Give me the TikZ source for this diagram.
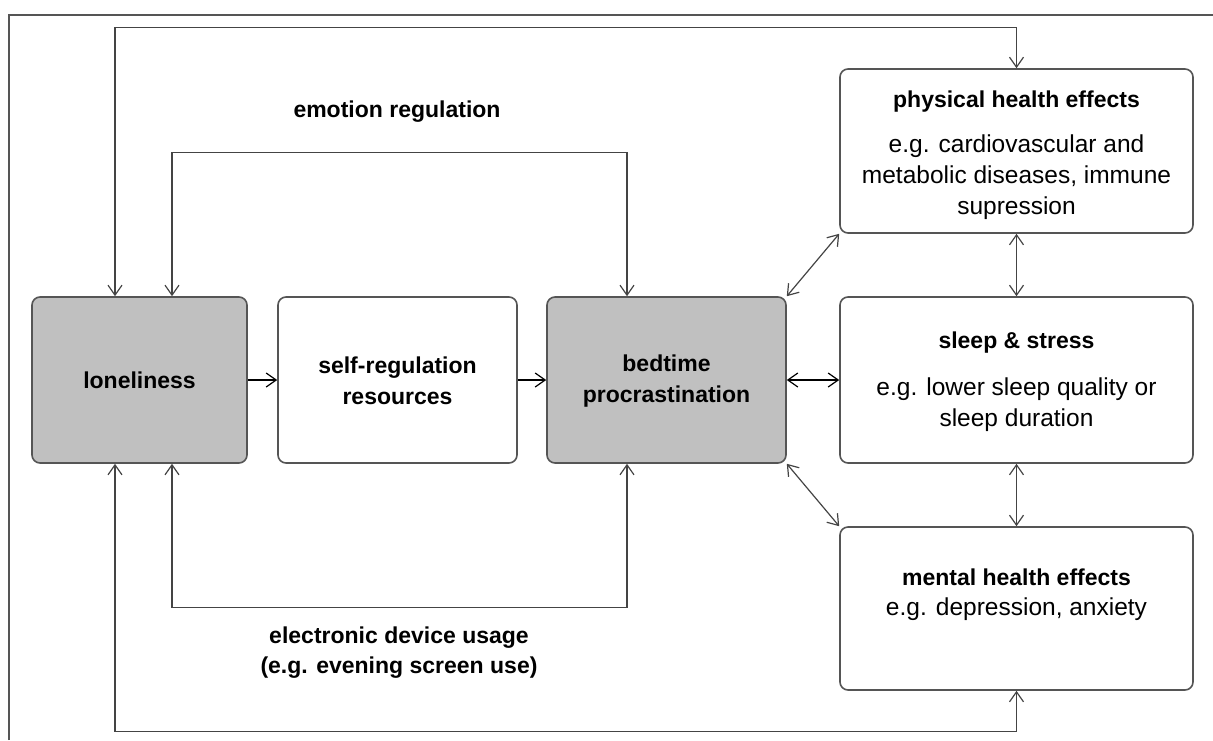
\documentclass[tikz,border=0pt]{standalone}
\usepackage{fontspec}
\setmainfont{Liberation Sans}
\usetikzlibrary{arrows.meta}
\newcommand\bt{\bfseries\fontsize{23}{30.5}\selectfont}
\newcommand\rt{\fontsize{24.5}{31}\selectfont}
\definecolor{boxgray}{HTML}{C0C0C0}
\definecolor{edgegray}{HTML}{555555}
\definecolor{linegray}{HTML}{444444}
\tikzset{
  box/.style={draw=edgegray, line width=1.6pt, rounded corners=8pt, inner sep=0pt},
  tip/.style={Straight Barb[length=10pt,width=14pt,line width=1.2pt]},
  conn/.style={draw=linegray, line width=1.2pt, -{Straight Barb[length=10pt,width=14pt,line width=1.2pt]}},
  biconn/.style={draw=linegray, line width=1.2pt, {Straight Barb[length=10pt,width=14pt,line width=1.2pt]}-{Straight Barb[length=10pt,width=14pt,line width=1.2pt]}},
  btxt/.style={inner sep=0pt, align=center, text=black, font=\bt},
  rtxt/.style={inner sep=0pt, align=center, text=black, font=\rt}
}
\begin{document}
\begin{tikzpicture}[x=1pt,y=1pt]
\useasboundingbox (0,0) rectangle (1213,-740);
% frame
\draw[edgegray, line width=1.4pt] (9,-740) -- (9,-15) -- (1213,-15);
% boxes
\node[box, fill=boxgray, minimum width=215pt, minimum height=166pt] (lon) at (139.5,-380) {};
\node[box, fill=white, minimum width=239pt, minimum height=166pt] (self) at (397.5,-380) {};
\node[box, fill=boxgray, minimum width=239pt, minimum height=166pt] (bed) at (666.5,-380) {};
\node[box, fill=white, minimum width=353pt, minimum height=164pt] (phys) at (1016.5,-151) {};
\node[box, fill=white, minimum width=353pt, minimum height=166pt] (sleep) at (1016.5,-380) {};
\node[box, fill=white, minimum width=353pt, minimum height=163pt] (ment) at (1016.5,-608.5) {};
% texts
\node[btxt] (lonT) at (139.5,-380) {loneliness};
\node[btxt] (selfT) at (397.5,-381) {self-regulation\\resources};
\node[btxt] (bedT) at (666.5,-381) {bedtime\\procrastination};
\node[btxt] (physH) at (1016.5,-102) {physical health effects};
\node[rtxt] (physB) at (1016.5,-177) {e.g. cardiovascular and\\metabolic diseases, immune\\supression};
\node[btxt] (sleepH) at (1016.5,-343) {sleep \& stress};
\node[rtxt] (sleepB) at (1016.5,-405) {e.g. lower sleep quality or\\sleep duration};
\node[btxt] (mentH) at (1016.5,-577) {mental health effects};
\node[rtxt] (mentB) at (1016.5,-609) {e.g. depression, anxiety};
\node[btxt] (emo) at (397,-112) {emotion regulation};
\node[btxt] (elec) at (399,-652.5) {electronic device usage\\(e.g. evening screen use)};
% connectors
\draw[conn, draw=black] (lon.east) -- (self.west);
\draw[conn, draw=black] (self.east) -- (bed.west);
\draw[biconn, draw=black] (bed.east) -- (sleep.west);
\draw[biconn] (bed.north east) -- (phys.south west);
\draw[biconn] (bed.south east) -- (ment.north west);
\draw[biconn] (phys.south) -- (sleep.north);
\draw[biconn] (sleep.south) -- (ment.north);
\draw[biconn] ([xshift=-24.5pt]lon.north) -- ++(0,269) -| (phys.north);
\draw[biconn] ([xshift=32.5pt]lon.north) -- ++(0,144) -| ([xshift=-39.5pt]bed.north);
\draw[biconn] ([xshift=32.5pt]lon.south) -- ++(0,-144) -| ([xshift=-39.5pt]bed.south);
\draw[biconn] ([xshift=-24.5pt]lon.south) -- ++(0,-268) -| (ment.south);
\end{tikzpicture}
\end{document}
